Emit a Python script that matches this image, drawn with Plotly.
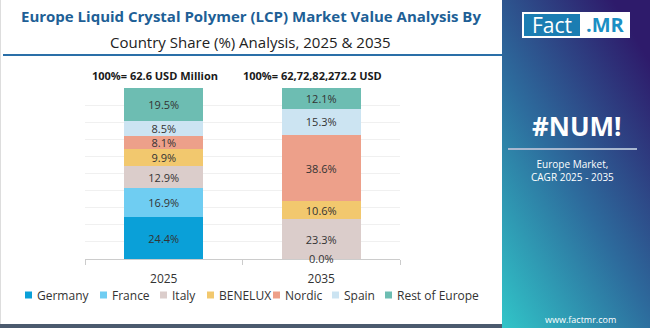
import base64
import plotly.graph_objects as go

# ---------------- data ----------------
years = ["2025", "2035"]
segments = ["Germany", "France", "Italy", "BENELUX", "Nordic", "Spain", "Rest of Europe"]
germany = [24.4, 0.0]
france = [16.9, 0.0]
italy = [12.9, 23.3]
benelux = [9.9, 10.6]
nordic = [8.1, 38.6]
spain = [8.5, 15.3]
rest_of_europe = [19.5, 12.1]
totals = ["100%= 62.6 USD Million", "100%= 62,72,82,272.2 USD"]
series = [germany, france, italy, benelux, nordic, spain, rest_of_europe]

colors = ["#0aa0d8", "#6fcdf2", "#dbcdcb", "#f2c86e", "#eda08a", "#cce4f2", "#6dbdb2"]

W, H = 650, 328
FONT = "Open Sans"

def px_x(x):
    return x / W

def px_y(y):
    return 1 - y / H

fig = go.Figure()
for name, vals, col in zip(segments, series, colors):
    fig.add_trace(go.Bar(
        x=years, y=vals, name=name, marker=dict(color=col, line=dict(width=0)),
        text=[f"{v:.1f}%" if v > 0 else "" for v in vals],
        textposition="inside", insidetextanchor="middle",
        textfont=dict(size=11, color="#333333", family=FONT),
        width=0.5, showlegend=False, hoverinfo="skip",
    ))

annotations = []
shapes = []

def ann(x, y, text, size, color, xanchor="center", bold=False, xref="paper", yref="paper", **kw):
    annotations.append(dict(x=x, y=y, xref=xref, yref=yref,
                            text=f"<b>{text}</b>" if bold else text,
                            showarrow=False, xanchor=xanchor, yanchor="middle",
                            font=dict(size=size, color=color, family=FONT), **kw))

# zero-valued first segment label at baseline (category index positions)
for i, v in enumerate(germany):
    if v == 0:
        ann(i, v, f"{v:.1f}%", 11, "#333333", xref="x", yref="y", yshift=1)

# header totals
for i, t in enumerate(totals):
    ann(i, px_y(75), t, 11, "#1a1a1a", bold=True, xref="x", xshift=-9)

# title
ann(px_x(251), px_y(16), "Europe Liquid Crystal Polymer (LCP) Market Value Analysis By", 15,
    "#1e5f96", bold=True)
ann(px_x(250), px_y(42), "Country Share (%) Analysis, 2025 & 2035", 15, "#222222")
shapes.append(dict(type="line", xref="paper", yref="paper", x0=px_x(3), x1=px_x(502),
                   y0=px_y(55), y1=px_y(55), line=dict(color="#2a6fa8", width=2)))

# custom legend
leg_x = [25, 100, 160, 207, 273, 332, 385]
for name, col, lx in zip(segments, colors, leg_x):
    shapes.append(dict(type="rect", xref="paper", yref="paper",
                       x0=px_x(lx), x1=px_x(lx + 7), y0=px_y(291.5), y1=px_y(298.5),
                       fillcolor=col, line=dict(width=0)))
    ann(px_x(lx + 10), px_y(295), name, 12, "#333333", xanchor="left")

# bottom bar and left border
shapes.append(dict(type="rect", xref="paper", yref="paper", x0=0, x1=px_x(502),
                   y0=0, y1=px_y(324), fillcolor="#4b5a6e", line=dict(width=0)))
shapes.append(dict(type="line", xref="paper", yref="paper", x0=px_x(0.5), x1=px_x(0.5),
                   y0=px_y(324), y1=px_y(0), line=dict(color="#dddddd", width=1)))

# right panel gradient
svg = (
    '<svg xmlns="http://www.w3.org/2000/svg" width="148" height="328" viewBox="0 0 148 328" preserveAspectRatio="none">'
    '<defs><linearGradient id="g" x1="0" y1="1" x2="0.75" y2="0">'
    '<stop offset="0" stop-color="#31c5c8"/>'
    '<stop offset="0.5" stop-color="#2d6c9d"/>'
    '<stop offset="1" stop-color="#2e1b6b"/>'
    '</linearGradient></defs>'
    '<rect width="148" height="328" fill="url(#g)"/></svg>'
)
src = "data:image/svg+xml;base64," + base64.b64encode(svg.encode()).decode()
images = [dict(source=src, xref="paper", yref="paper", x=px_x(502), y=1,
               sizex=148 / W, sizey=1, sizing="stretch", layer="below",
               xanchor="left", yanchor="top")]

# logo
shapes.append(dict(type="rect", xref="paper", yref="paper", x0=px_x(522), x1=px_x(630),
                   y0=px_y(38), y1=px_y(12), fillcolor="white", line=dict(width=0)))
shapes.append(dict(type="rect", xref="paper", yref="paper", x0=px_x(524), x1=px_x(580),
                   y0=px_y(36), y1=px_y(14), fillcolor="#1b7db2", line=dict(width=0)))
ann(px_x(552), px_y(25), "Fact", 21, "white")
ann(px_x(605), px_y(25), ".MR", 20, "#1b8fc4", bold=True)

# panel text
ann(px_x(577), px_y(126), "#NUM!", 26, "white", bold=True)
shapes.append(dict(type="line", xref="paper", yref="paper", x0=px_x(508), x1=px_x(637),
                   y0=px_y(149), y1=px_y(149), line=dict(color="#a9b8d0", width=2)))
ann(px_x(572), px_y(170), "Europe Market,<br>CAGR 2025 - 2035", 10, "white")
ann(px_x(580), px_y(319), "www.factmr.com", 9, "white")

fig.update_layout(
    width=W, height=H, margin=dict(l=0, r=0, t=0, b=0),
    paper_bgcolor="white", plot_bgcolor="white",
    barmode="stack", bargap=0.5,
    uniformtext=dict(minsize=11, mode="show"),
    xaxis=dict(type="category", domain=[px_x(85), px_x(400)], range=[-0.5, len(years) - 0.5],
               showline=True, linecolor="#cccccc", linewidth=1,
               ticks="outside", tickson="boundaries", ticklen=5, tickcolor="#cccccc",
               ticklabelstandoff=9,
               tickfont=dict(size=12, color="#333333", family=FONT), showgrid=False,
               fixedrange=True),
    yaxis=dict(domain=[px_y(259), px_y(88)], range=[0, 100], dtick=10, showticklabels=False,
               showgrid=True, gridcolor="#f0f0f0", gridwidth=1, zeroline=False, fixedrange=True),
    annotations=annotations, shapes=shapes, images=images,
    font=dict(family=FONT),
)

fig.write_html("out.html")
